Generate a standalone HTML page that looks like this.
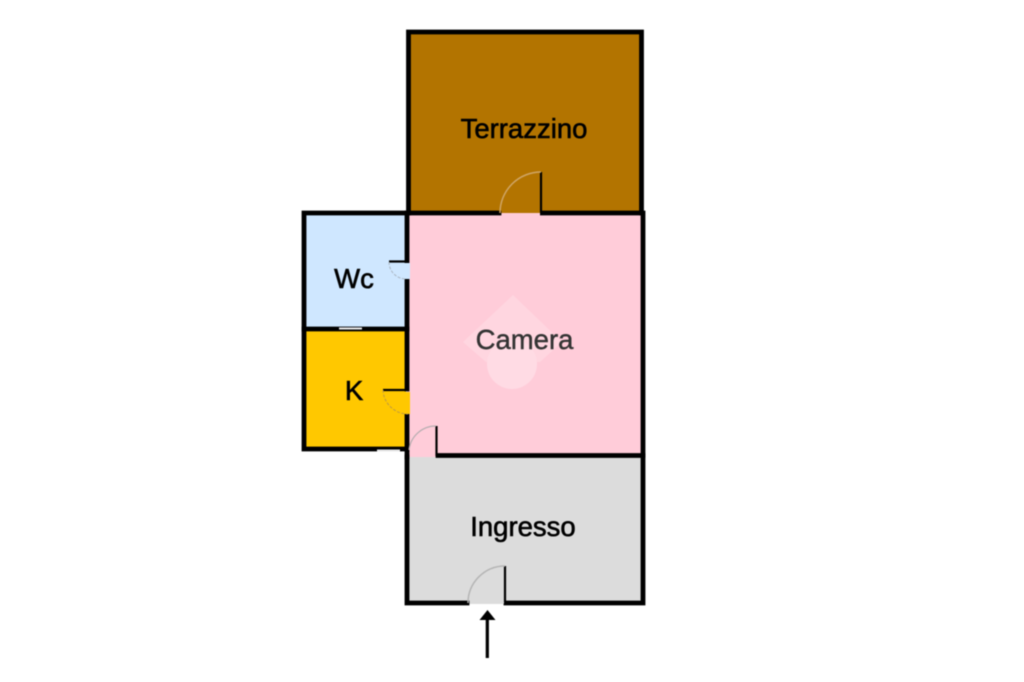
<!DOCTYPE html>
<html>
<head>
<meta charset="utf-8">
<style>
html,body{margin:0;padding:0;background:#fff;width:1024px;height:682px;overflow:hidden}
svg{display:block;filter:blur(0.5px)}
text{font-family:"Liberation Sans",sans-serif;font-size:27.5px;text-anchor:middle;fill:#000;stroke:#000;stroke-width:0.6px}
</style>
</head>
<body>
<svg width="1024" height="682" viewBox="0 0 1024 682" xmlns="http://www.w3.org/2000/svg">
<!-- fills -->
<rect x="408" y="30" width="235" height="183" fill="#b37400"/>
<rect x="407" y="213" width="237" height="244" fill="#ffccd9"/>
<rect x="405" y="457" width="239" height="147" fill="#dcdcdc"/>
<rect x="303" y="213" width="103" height="116" fill="#cfe7ff"/>
<rect x="303" y="329" width="103" height="120" fill="#ffc800"/>
<!-- watermark -->
<polygon points="513,295 562,342 540,362 486,362 463,342" fill="#ffd6e0"/>
<circle cx="512" cy="364" r="25" fill="#ffdbe4"/>
<!-- walls -->
<g stroke="#000" stroke-width="4.800" fill="none" stroke-linecap="square">
<path d="M408.500,213 V32 H641.500 V213"/>
<path d="M409,213 H499 M542,213 H643 V603 H506 M467,603 H407 V457"/>
<path d="M438,455.500 H643"/>
<path d="M407,213 H304 V449 H407"/>
<path d="M304,329 H407"/>
<path d="M407,213 V261 M407,280 V389 M407,415 V457"/>
</g>
<!-- openings -->
<rect x="404.500" y="263" width="5.500" height="16" fill="#cfe7ff"/>
<rect x="404.500" y="392" width="5.500" height="22" fill="#ffc800"/>
<rect x="502" y="210" width="38" height="3" fill="#b37400"/>
<rect x="502" y="213" width="38" height="3" fill="#ffccd9"/>
<rect x="470" y="600" width="34" height="3.500" fill="#dcdcdc"/>
<!-- door leaves -->
<g stroke="#000" stroke-width="2.200" fill="none">
<path d="M541,172 V212"/>
<path d="M505,566 V602"/>
<path d="M436.500,426 V456"/>
<path d="M389,261.500 H406"/>
<path d="M383,390 H406"/>
</g>
<!-- door arcs -->
<g fill="none">
<path d="M541,172 A41,41 0 0 0 500,213" stroke="#cfa565" stroke-width="1.500"/>
<path d="M505,566 A37,37 0 0 0 468,603" stroke="#b5b5b5" stroke-width="1.500"/>
<path d="M436,426 A27,27 0 0 0 409,450" stroke="#b5adb0" stroke-width="1.200"/>
<path d="M389,262 A17,17 0 0 0 406,279" stroke="#aab6c2" stroke-width="1" stroke-dasharray="3 1.500"/>
<path d="M383,390 A25,25 0 0 0 408,414" stroke="#c09a40" stroke-width="1" stroke-dasharray="3 1.500"/>
</g>
<!-- windows -->
<rect x="339" y="327.500" width="23" height="2" fill="#e8e8e8"/>
<rect x="377" y="449.500" width="23" height="2" fill="#e8e8e8"/>
<!-- entry arrow -->
<path d="M487.300,618 V658" stroke="#000" stroke-width="3.200" fill="none"/>
<polygon points="487.500,610 495.500,620 479.500,620" fill="#000"/>
<!-- labels -->
<text x="524" y="138">Terrazzino</text>
<text x="524.500" y="349" style="fill:#333;stroke:#333;stroke-width:0.4px">Camera</text>
<text x="354" y="288">Wc</text>
<text x="354" y="400">K</text>
<text x="523" y="536">Ingresso</text>
</svg>
</body>
</html>
